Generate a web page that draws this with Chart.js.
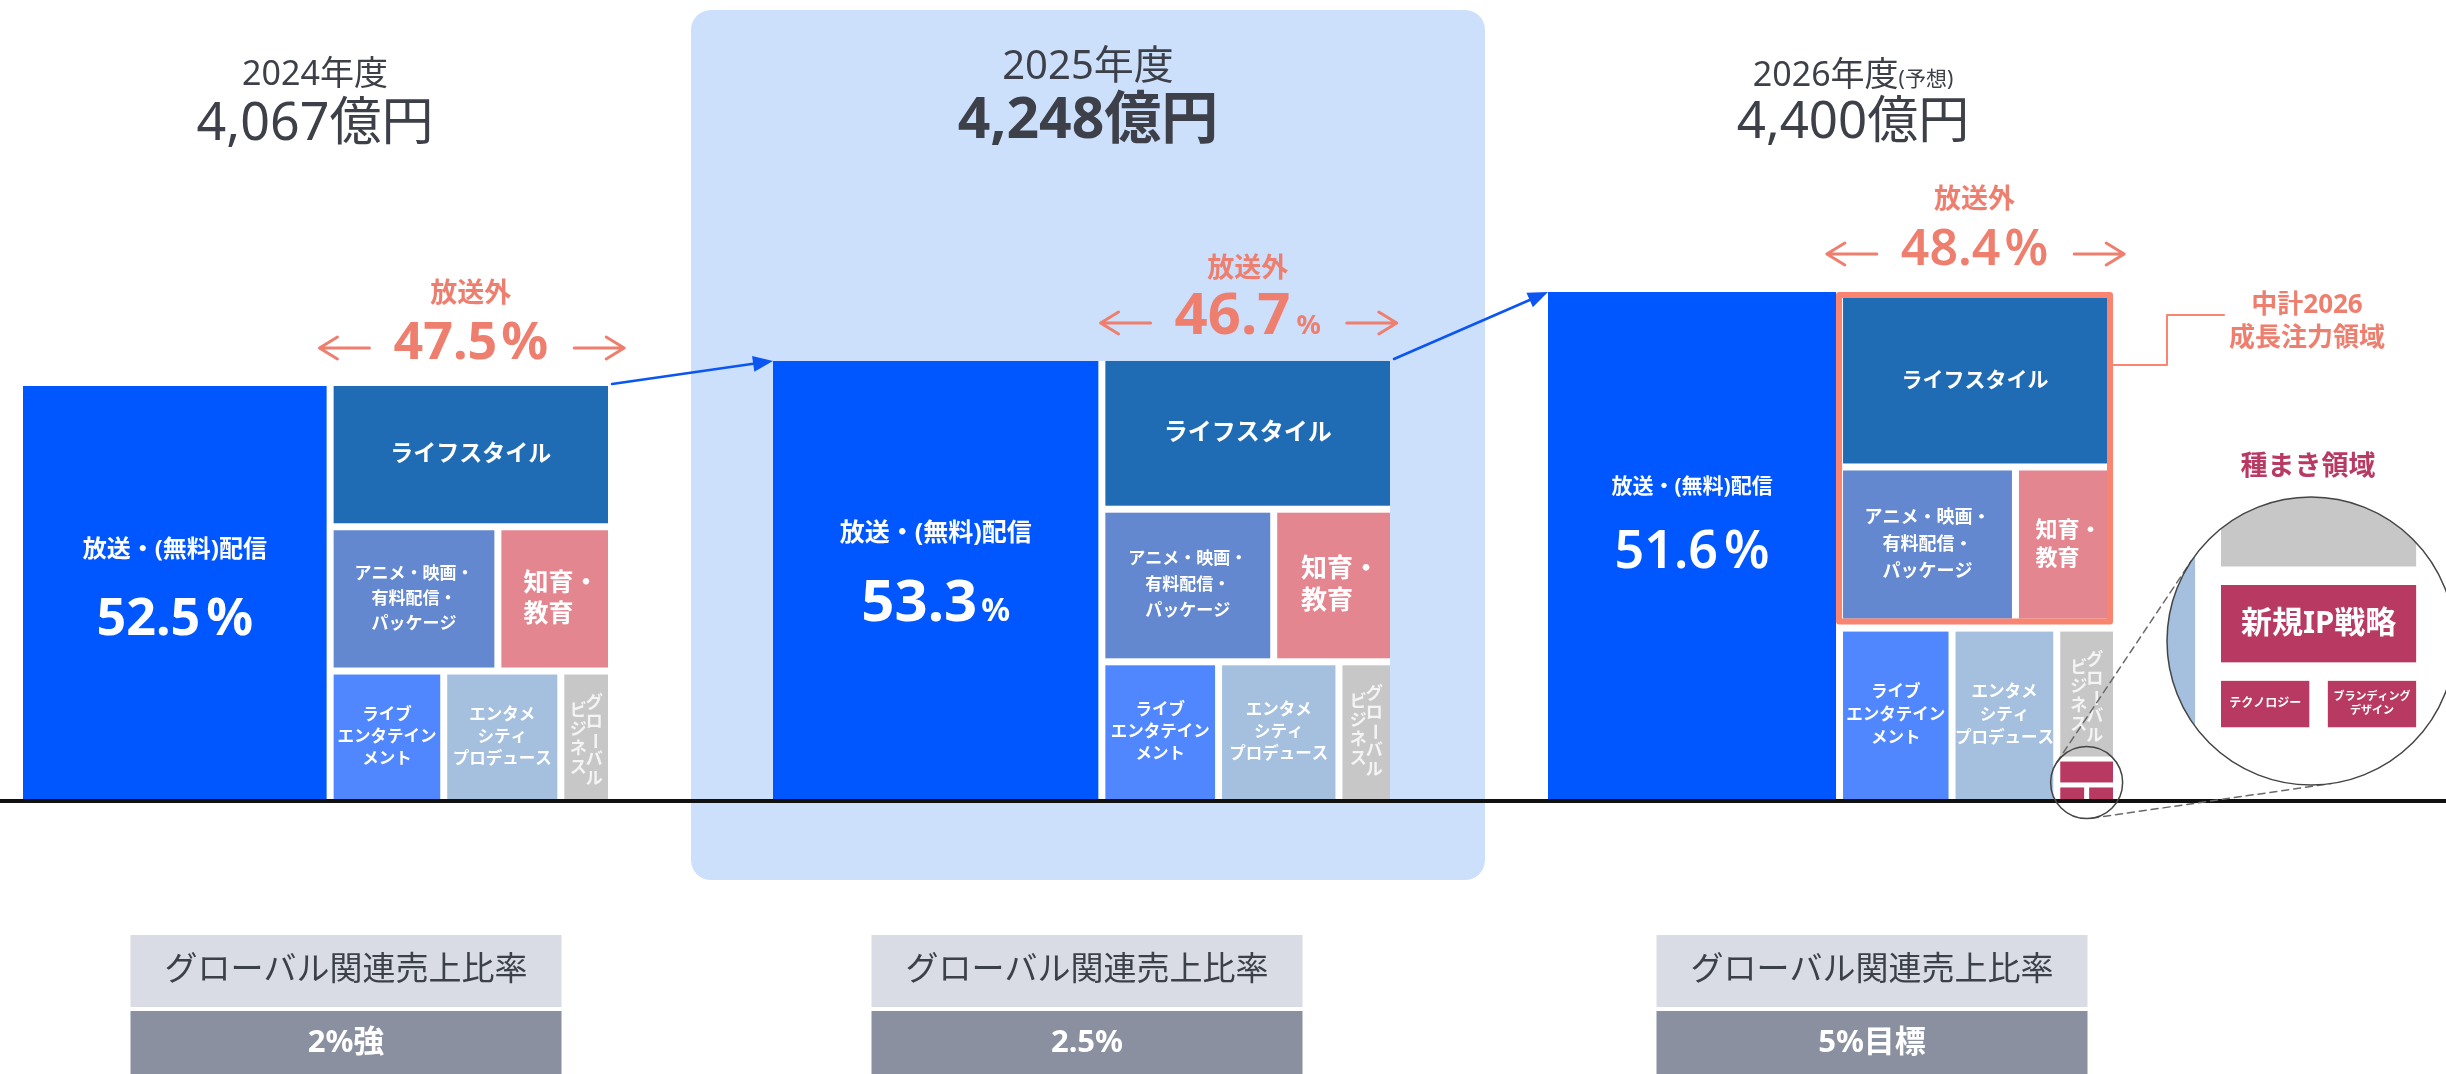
<!DOCTYPE html>
<html lang="ja">
<head>
<meta charset="utf-8">
<title>売上構成の推移</title>
<script src="https://cdn.jsdelivr.net/npm/chart.js@4.4.1/dist/chart.umd.min.js"></script>
<style>
  html, body { margin: 0; padding: 0; background: #fff; overflow: hidden; }
  #board { display: block; }
</style>
</head>
<body>
<canvas id="board" width="2446" height="1074"></canvas>
<script>
// ---- data ----
const years = ['2024年度', '2025年度', '2026年度'];
const yearNotes = ['', '', '(予想)'];
const totals = [4067, 4248, 4400];              // 億円
const broadcastShare = [52.5, 53.3, 51.6];      // 放送・(無料)配信 %
const nonBroadcastShare = [47.5, 46.7, 48.4];   // 放送外 %
const lifestyleShare = [16.3, 15.9, 16.8];
const animeShare = [9.8, 9.5, 9.7];
const eduShare = [6.5, 6.5, 5.4];
const liveShare = [6.1, 6.0, 6.8];
const entameShare = [6.3, 6.2, 6.3];
const globalShare = [2.5, 2.6, 2.6];
const newIpShare = [0, 0, 0.5];
const techShare = [0, 0, 0.15];
const brandingShare = [0, 0, 0.15];
const globalRatio = ['2%強', '2.5%', '5%目標'];

// ---- layout (board units) ----
const BASE = 800;
const GAP = 7;
const blockLeft = [23, 773, 1548];
const blockRight = [608, 1390, 2113];
const blockHeight = [414, 439, 508];
const focusYear = 2;            // outlined as 中計2026 area
const titleX = [315, 1088, 1853];
const titleStyle = [
  { yearSize: 34, yearBase: 85, valueWeight: 400, valueSize: 52, valueBase: 140 },
  { yearSize: 40, yearBase: 79, valueWeight: 700, valueSize: 57, valueBase: 138 },
  { yearSize: 34, yearBase: 86, valueWeight: 400, valueSize: 51, valueBase: 138 }
];
const bcLabelDy = [164, 173, 195];
const bcLabelSize = [24, 25, 21];
const bcPctDy = [249, 260, 276];
const bcPctStyle = [
  { big: 52, small: 52, weight: 700, gap: 6 },
  { big: 58, small: 32, weight: 700, gap: 4 },
  { big: 52, small: 52, weight: 600, gap: 6 }
];
const nbPctStyle = [
  { big: 52, small: 52, weight: 700, gap: 4 },
  { big: 58, small: 27, weight: 700, gap: 6 },
  { big: 50, small: 50, weight: 600, gap: 4 }
];
const cellFont = [
  { life: 23, anime: 17, animeLh: 25, edu: 25, eduLh: 31, small: 16.5, smallLh: 22 },
  { life: 24, anime: 17, animeLh: 26, edu: 26, eduLh: 32, small: 16.5, smallLh: 22 },
  { life: 21, anime: 18, animeLh: 27, edu: 22, eduLh: 28, small: 16.5, smallLh: 23 }
];
const ratioBoxX = [346, 1087, 1872];
const ratioBoxW = 431;
const MAG = { x: 2221, y: 585, k: 3.7, cx: 2311, cy: 641, r: 144 };

const COLORS = {
  broadcast: '#0057FF', lifestyle: '#1F6BB4', anime: '#6388D0', edu: '#E48690',
  live: '#5087FF', entame: '#A4C0DE', global: '#C7C7C7', seed: '#B83A62',
  salmon: '#EE7F6F', outline: '#F98571', title: '#3D4048', arrow: '#0B55F2',
  highlight: '#CCE0FC', ratioHead: '#D9DCE4', ratioValue: '#8A90A0'
};
const FONT = "'Noto Sans', 'Noto Sans CJK JP', sans-serif";
const font = (w, s) => `${w} ${s}px ${FONT}`;

// treemap cells of one year, in board units
function layoutYear(i) {
  const left = blockLeft[i], right = blockRight[i];
  const top = BASE - blockHeight[i];
  const split = left + (right - left) * broadcastShare[i] / 100;
  const cells = { broadcast: { x0: left, x1: split - GAP / 2, y0: top, y1: BASE } };
  const gx0 = split + GAP / 2, gx1 = right;
  const colSum = globalShare[i] + newIpShare[i] + techShare[i] + brandingShare[i];
  const rows = [
    [['lifestyle', lifestyleShare[i]]],
    [['anime', animeShare[i]], ['edu', eduShare[i]]],
    [['live', liveShare[i]], ['entame', entameShare[i]], ['globalCol', colSum]]
  ];
  const rowSums = rows.map(r => r.reduce((s, c) => s + c[1], 0));
  const all = rowSums.reduce((a, b) => a + b, 0);
  const usable = BASE - top - GAP * (rows.length - 1);
  let y = top;
  rows.forEach((row, r) => {
    const h = usable * rowSums[r] / all;
    const wUsable = gx1 - gx0 - GAP * (row.length - 1);
    let x = gx0;
    row.forEach(([key, v]) => {
      const w = wUsable * v / rowSums[r];
      cells[key] = { x0: x, x1: x + w, y0: y, y1: y + h };
      x += w + GAP;
    });
    y += h + GAP;
  });

  // global column: グローバル on top, seed areas underneath
  const col = cells.globalCol;
  const seeds = newIpShare[i] + techShare[i] + brandingShare[i];
  if (seeds > 0) {
    const inner = 5;
    const colH = col.y1 - col.y0;
    const gH = (colH - inner) * globalShare[i] / colSum;
    cells.global = { x0: col.x0, x1: col.x1, y0: col.y0, y1: col.y0 + gH };
    const ry0 = col.y0 + gH + inner;
    const topH = (col.y1 - ry0 - inner) * newIpShare[i] / seeds;
    cells.newIp = { x0: col.x0, x1: col.x1, y0: ry0, y1: ry0 + topH };
    const by0 = ry0 + topH + inner;
    const tw = (col.x1 - col.x0 - inner) * techShare[i] / (techShare[i] + brandingShare[i]);
    cells.tech = { x0: col.x0, x1: col.x0 + tw, y0: by0, y1: col.y1 };
    cells.branding = { x0: col.x0 + tw + inner, x1: col.x1, y0: by0, y1: col.y1 };
  } else {
    cells.global = col;
  }

  const group = { x0: gx0, x1: gx1, top };
  if (i === focusYear) {
    const o = 6;
    group.outline = { x0: cells.broadcast.x1, x1: gx1, y0: top, y1: cells.edu.y1 };
    cells.lifestyle.y0 += o;
    cells.lifestyle.x1 -= o;
    cells.edu.x1 -= o;
    cells.anime.y1 -= o;
    cells.edu.y1 -= o;
    group.x0 = group.outline.x0;
  }
  return { cells, group, top };
}

const boardPlugin = {
  id: 'board',
  afterDraw(chart) {
    const ctx = chart.ctx;
    const sx = v => chart.scales.x.getPixelForValue(v);
    const sy = v => chart.scales.y.getPixelForValue(v);

    const fillBox = (b, color) => {
      ctx.fillStyle = color;
      ctx.fillRect(sx(b.x0), sy(b.y0), sx(b.x1) - sx(b.x0), sy(b.y1) - sy(b.y0));
    };
    const text = (str, x, y, f, color, align = 'center', baseline = 'middle') => {
      ctx.font = f; ctx.fillStyle = color;
      ctx.textAlign = align; ctx.textBaseline = baseline;
      ctx.fillText(str, sx(x), sy(y));
    };
    const lines = (arr, cx, cy, size, lh, color, leftBlock) => {
      const f = font(700, size);
      ctx.font = f;
      const maxW = Math.max(...arr.map(l => ctx.measureText(l).width));
      const y0 = cy - (arr.length - 1) * lh / 2;
      arr.forEach((l, k) => {
        if (leftBlock) text(l, cx - maxW / 2 + size * 0.25, y0 + k * lh, f, color, 'left');
        else text(l, cx, y0 + k * lh, f, color);
      });
    };
    // vertical writing, columns listed right to left; later columns start a little lower
    const vertical = (cols, cx, top, size, adv, colGap, color) => {
      ctx.font = font(600, size); ctx.fillStyle = color;
      ctx.textAlign = 'center'; ctx.textBaseline = 'middle';
      cols.forEach((str, c) => {
        const x = sx(cx + colGap / 2 - c * colGap);
        [...str].forEach((ch, k) => {
          const y = sy(top + adv / 2 + k * adv + c * adv * 0.45);
          if (ch === 'ー') {
            ctx.save(); ctx.translate(x, y); ctx.rotate(Math.PI / 2);
            ctx.fillText(ch, 0, 0); ctx.restore();
          } else ctx.fillText(ch, x, y);
        });
      });
    };
    // number with a separately sized "%" sign, centred on cx; returns its extent
    const percent = (value, cx, base, st, color) => {
      const num = value.toFixed(1);
      const fBig = font(st.weight, st.big), fSmall = font(st.weight, st.small);
      ctx.font = fBig; const w1 = ctx.measureText(num).width;
      ctx.font = fSmall; const w2 = ctx.measureText('%').width;
      const x0 = cx - (w1 + st.gap + w2) / 2;
      text(num, x0, base, fBig, color, 'left', 'alphabetic');
      text('%', x0 + w1 + st.gap, base, fSmall, color, 'left', 'alphabetic');
      return { x0, x1: x0 + w1 + st.gap + w2 };
    };
    const sideArrow = (xFrom, xTo, y, color) => {
      const d = Math.sign(xTo - xFrom);
      ctx.strokeStyle = color; ctx.lineWidth = 3; ctx.lineCap = 'round'; ctx.lineJoin = 'round';
      ctx.beginPath();
      ctx.moveTo(sx(xFrom), sy(y)); ctx.lineTo(sx(xTo), sy(y));
      ctx.moveTo(sx(xTo - d * 18), sy(y - 11)); ctx.lineTo(sx(xTo), sy(y)); ctx.lineTo(sx(xTo - d * 18), sy(y + 11));
      ctx.stroke();
    };
    const connector = (x0, y0, x1, y1) => {
      const a = Math.atan2(y1 - y0, x1 - x0), head = 20, half = 8;
      const bx = x1 - Math.cos(a) * head, by = y1 - Math.sin(a) * head;
      ctx.strokeStyle = COLORS.arrow; ctx.fillStyle = COLORS.arrow; ctx.lineWidth = 2.5;
      ctx.beginPath(); ctx.moveTo(sx(x0), sy(y0)); ctx.lineTo(sx(bx), sy(by)); ctx.stroke();
      ctx.beginPath();
      ctx.moveTo(sx(x1), sy(y1));
      ctx.lineTo(sx(bx - Math.sin(a) * half), sy(by + Math.cos(a) * half));
      ctx.lineTo(sx(bx + Math.sin(a) * half), sy(by - Math.cos(a) * half));
      ctx.closePath(); ctx.fill();
    };
    const cellColor = { broadcast: COLORS.broadcast, lifestyle: COLORS.lifestyle, anime: COLORS.anime,
      edu: COLORS.edu, live: COLORS.live, entame: COLORS.entame, global: COLORS.global,
      newIp: COLORS.seed, tech: COLORS.seed, branding: COLORS.seed };

    ctx.save();
    ctx.fillStyle = '#fff';
    ctx.fillRect(0, 0, chart.width, chart.height);

    // highlighted current year panel
    ctx.fillStyle = COLORS.highlight;
    ctx.beginPath();
    ctx.roundRect(sx(691), sy(10), sx(1485) - sx(691), sy(880) - sy(10), 20);
    ctx.fill();

    const layouts = years.map((_, i) => layoutYear(i));

    layouts.forEach(({ cells, group, top }, i) => {
      // titles
      const ts = titleStyle[i];
      const fYear = font(400, ts.yearSize), fNote = font(400, Math.round(ts.yearSize * 0.62));
      ctx.font = fYear; const wy = ctx.measureText(years[i]).width;
      ctx.font = fNote; const wn = yearNotes[i] ? ctx.measureText(yearNotes[i]).width : 0;
      const yx = titleX[i] - (wy + wn) / 2;
      text(years[i], yx, ts.yearBase, fYear, COLORS.title, 'left', 'alphabetic');
      if (yearNotes[i]) text(yearNotes[i], yx + wy, ts.yearBase, fNote, COLORS.title, 'left', 'alphabetic');
      text(totals[i].toLocaleString('en-US') + '億円', titleX[i], ts.valueBase,
        font(ts.valueWeight, ts.valueSize), COLORS.title, 'center', 'alphabetic');

      // treemap cells
      fillBox({ x0: blockLeft[i], x1: blockRight[i], y0: top, y1: BASE }, '#fff');
      Object.keys(cellColor).forEach(k => { if (cells[k]) fillBox(cells[k], cellColor[k]); });

      const cc = b => [(b.x0 + b.x1) / 2, (b.y0 + b.y1) / 2];
      const cf = cellFont[i];
      const b = cells.broadcast;
      text('放送・(無料)配信', (b.x0 + b.x1) / 2, top + bcLabelDy[i], font(700, bcLabelSize[i]), '#fff');
      percent(broadcastShare[i], (b.x0 + b.x1) / 2, top + bcPctDy[i], bcPctStyle[i], '#fff');
      lines(['ライフスタイル'], ...cc(cells.lifestyle), cf.life, 0, '#fff');
      lines(['アニメ・映画・', '有料配信・', 'パッケージ'], ...cc(cells.anime), cf.anime, cf.animeLh, '#fff');
      lines(['知育・', '教育'], ...cc(cells.edu), cf.edu, cf.eduLh, '#fff', true);
      lines(['ライブ', 'エンタテイン', 'メント'], ...cc(cells.live), cf.small, cf.smallLh, '#fff');
      lines(['エンタメ', 'シティ', 'プロデュース'], ...cc(cells.entame), cf.small, cf.smallLh, '#fff');
      const g = cells.global;
      vertical(['グローバル', 'ビジネス'], (g.x0 + g.x1) / 2, g.y0 + 19, 17, 19, 16, '#F4F4F4');

      if (group.outline) {
        const o = group.outline;
        ctx.strokeStyle = COLORS.outline; ctx.lineWidth = 6;
        ctx.strokeRect(sx(o.x0 + 3), sy(o.y0 + 3), sx(o.x1) - sx(o.x0) - 6, sy(o.y1) - sy(o.y0) - 6);
      }

      // 放送外 share above the group
      const gcx = (group.x0 + group.x1) / 2;
      text('放送外', gcx, top - 92, font(700, 27), COLORS.salmon);
      const ext = percent(nonBroadcastShare[i], gcx, top - 27, nbPctStyle[i], COLORS.salmon);
      sideArrow(ext.x0 - 24, ext.x0 - 74, top - 38, COLORS.salmon);
      sideArrow(ext.x1 + 26, ext.x1 + 76, top - 38, COLORS.salmon);

      // global ratio boxes
      const rx0 = ratioBoxX[i] - ratioBoxW / 2, rx1 = ratioBoxX[i] + ratioBoxW / 2;
      fillBox({ x0: rx0, x1: rx1, y0: 935, y1: 1007 }, COLORS.ratioHead);
      fillBox({ x0: rx0, x1: rx1, y0: 1011, y1: 1074 }, COLORS.ratioValue);
      text('グローバル関連売上比率', ratioBoxX[i], 971, font(400, 33), '#3C4049');
      text(globalRatio[i], ratioBoxX[i], 1043, font(700, 31), '#fff');
    });

    // baseline
    ctx.fillStyle = '#111';
    ctx.fillRect(sx(0), sy(799), sx(2446) - sx(0), sy(803) - sy(799));

    // growth arrows between years
    for (let i = 0; i < layouts.length - 1; i++) {
      const a = layouts[i], n = layouts[i + 1];
      connector(blockRight[i] + 4, a.top - 2, n.cells.broadcast.x0, n.top);
    }

    // 中計2026 callout
    const fo = layouts[focusYear].group.outline;
    ctx.strokeStyle = COLORS.outline; ctx.lineWidth = 2;
    ctx.beginPath();
    ctx.moveTo(sx(fo.x1), sy(fo.y0 + 73));
    ctx.lineTo(sx(2167), sy(fo.y0 + 73));
    ctx.lineTo(sx(2167), sy(315));
    ctx.lineTo(sx(2224), sy(315));
    ctx.stroke();
    text('中計2026', 2307, 306, font(700, 26), COLORS.salmon);
    text('成長注力領域', 2307, 339, font(700, 26), COLORS.salmon);

    // seed areas: small circle, tangent lines and magnified view
    const fc = layouts[focusYear].cells;
    const s = { x: (fc.newIp.x0 + fc.newIp.x1) / 2, y: fc.newIp.y0 + 21, r: 36 };
    const d = Math.hypot(MAG.cx - s.x, MAG.cy - s.y);
    const th = Math.atan2(MAG.cy - s.y, MAG.cx - s.x);
    const phi = Math.acos((s.r - MAG.r) / d);
    ctx.strokeStyle = '#6A6A6A'; ctx.lineWidth = 1.5; ctx.setLineDash([7, 5]);
    [th + phi, th - phi].forEach(t => {
      ctx.beginPath();
      ctx.moveTo(sx(s.x + s.r * Math.cos(t)), sy(s.y + s.r * Math.sin(t)));
      ctx.lineTo(sx(MAG.cx + MAG.r * Math.cos(t)), sy(MAG.cy + MAG.r * Math.sin(t)));
      ctx.stroke();
    });
    ctx.setLineDash([]);
    ctx.strokeStyle = '#444';
    ctx.beginPath(); ctx.arc(sx(s.x), sy(s.y), s.r, 0, Math.PI * 2); ctx.stroke();

    ctx.save();
    ctx.beginPath(); ctx.arc(sx(MAG.cx), sy(MAG.cy), MAG.r, 0, Math.PI * 2);
    ctx.fillStyle = '#fff'; ctx.fill();
    ctx.clip();
    const mx = v => MAG.x + (v - fc.newIp.x0) * MAG.k;
    const my = v => MAG.y + (v - fc.newIp.y0) * MAG.k;
    const mag = c => ({ x0: mx(c.x0), x1: mx(c.x1), y0: my(c.y0), y1: my(c.y1) });
    ['live', 'entame', 'global', 'newIp', 'tech', 'branding'].forEach(k => fillBox(mag(fc[k]), cellColor[k]));
    const mc = c => { const m = mag(c); return [(m.x0 + m.x1) / 2, (m.y0 + m.y1) / 2]; };
    lines(['新規IP戦略'], ...mc(fc.newIp), 31, 0, '#fff');
    lines(['テクノロジー'], ...mc(fc.tech), 12, 0, '#fff');
    lines(['ブランディング', 'デザイン'], ...mc(fc.branding), 11, 14, '#fff');
    ctx.restore();
    ctx.strokeStyle = '#444'; ctx.lineWidth = 1.5;
    ctx.beginPath(); ctx.arc(sx(MAG.cx), sy(MAG.cy), MAG.r, 0, Math.PI * 2); ctx.stroke();

    text('種まき領域', 2308, 467, font(700, 27), COLORS.seed);
    ctx.restore();
  }
};

new Chart(document.getElementById('board'), {
  type: 'scatter',
  data: { datasets: [] },
  options: {
    responsive: false,
    animation: false,
    devicePixelRatio: 1,
    layout: { padding: 0 },
    scales: {
      x: { type: 'linear', min: 0, max: 2446, display: false },
      y: { type: 'linear', min: 0, max: 1074, reverse: true, display: false }
    },
    plugins: { legend: { display: false }, tooltip: { enabled: false } }
  },
  plugins: [boardPlugin]
});
</script>
</body>
</html>
